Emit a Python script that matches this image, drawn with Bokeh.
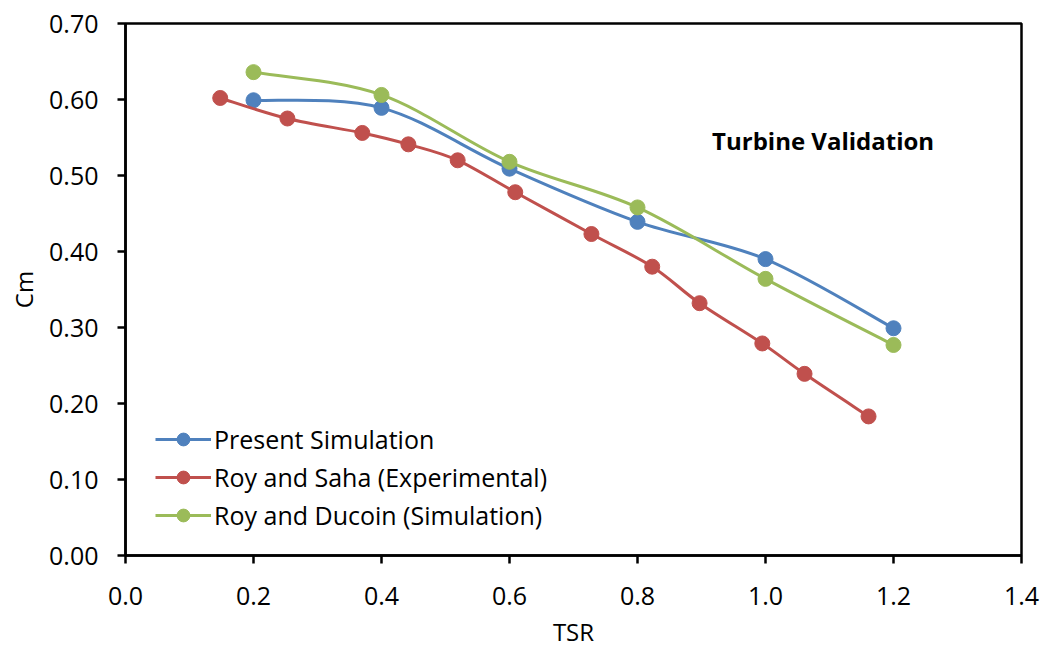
from bokeh.plotting import figure
from bokeh.models import Legend, LegendItem, Label, NumeralTickFormatter, FixedTicker, ColumnDataSource
from bokeh.embed import file_html
from bokeh.resources import INLINE

# Data
present_tsr = [0.2, 0.4, 0.6, 0.8, 1.0, 1.2]
present_cm = [0.599, 0.589, 0.509, 0.439, 0.390, 0.299]

saha_tsr = [0.148, 0.253, 0.370, 0.442, 0.519, 0.609, 0.728, 0.823, 0.897, 0.995, 1.061, 1.161]
saha_cm = [0.602, 0.575, 0.556, 0.541, 0.520, 0.478, 0.423, 0.380, 0.332, 0.279, 0.239, 0.183]

ducoin_tsr = [0.2, 0.4, 0.6, 0.8, 1.0, 1.2]
ducoin_cm = [0.636, 0.606, 0.518, 0.458, 0.364, 0.277]

labels = ["Present Simulation", "Roy and Saha (Experimental)", "Roy and Ducoin (Simulation)"]
colors = ["#4F81BD", "#C0504D", "#9BBB59"]
x_ticks = [0.0, 0.2, 0.4, 0.6, 0.8, 1.0, 1.2, 1.4]
y_ticks = [0.0, 0.1, 0.2, 0.3, 0.4, 0.5, 0.6, 0.7]

FONT = "Open Sans"

p = figure(width=1045, height=650, output_backend="svg", toolbar_location=None,
           x_range=(0, 1.4), y_range=(0, 0.7),
           min_border_left=125, min_border_right=24, min_border_top=23, min_border_bottom=94)
p.xgrid.visible = False
p.ygrid.visible = False
p.outline_line_color = "black"
p.outline_line_width = 2.5


def smooth_segments(xs, ys):
    n = len(xs)
    seg = dict(x0=[], y0=[], x1=[], y1=[], cx0=[], cy0=[], cx1=[], cy1=[])
    for i in range(n - 1):
        xm, ym = (xs[i - 1], ys[i - 1]) if i > 0 else (xs[i], ys[i])
        xp, yp = (xs[i + 2], ys[i + 2]) if i + 2 < n else (xs[i + 1], ys[i + 1])
        seg["x0"].append(xs[i]); seg["y0"].append(ys[i])
        seg["x1"].append(xs[i + 1]); seg["y1"].append(ys[i + 1])
        seg["cx0"].append(xs[i] + (xs[i + 1] - xm) / 6)
        seg["cy0"].append(ys[i] + (ys[i + 1] - ym) / 6)
        seg["cx1"].append(xs[i + 1] - (xp - xs[i]) / 6)
        seg["cy1"].append(ys[i + 1] - (yp - ys[i]) / 6)
    return ColumnDataSource(seg)


items = []
for (xs, ys), lab, col in zip([(present_tsr, present_cm), (saha_tsr, saha_cm), (ducoin_tsr, ducoin_cm)], labels, colors):
    src = smooth_segments(xs, ys)
    r1 = p.bezier(x0="x0", y0="y0", x1="x1", y1="y1", cx0="cx0", cy0="cy0", cx1="cx1", cy1="cy1",
                  source=src, line_color=col, line_width=3)
    r2 = p.scatter(xs, ys, size=15, fill_color=col, line_color=col)
    items.append(LegendItem(label=lab, renderers=[r1, r2]))

legend = Legend(items=items, location=(26, 19), label_text_font=FONT, label_text_font_size="25px",
                label_text_color="black", background_fill_alpha=0, border_line_alpha=0,
                glyph_width=56, glyph_height=32, label_standoff=3, spacing=4, padding=4, margin=0,
                label_height=32)
p.add_layout(legend, "center")

for ax in (p.xaxis[0], p.yaxis[0]):
    ax.axis_line_color = "black"
    ax.axis_line_width = 2.5
    ax.major_tick_line_color = "black"
    ax.major_tick_line_width = 2.5
    ax.major_tick_out = 8
    ax.major_tick_in = 0
    ax.minor_tick_line_color = None
    ax.major_label_text_font = FONT
    ax.major_label_text_font_size = "25px"
    ax.major_label_text_color = "black"
    ax.axis_label_text_font = FONT
    ax.axis_label_text_font_size = "24px"
    ax.axis_label_text_font_style = "normal"
    ax.axis_label_text_color = "black"

p.xaxis[0].ticker = FixedTicker(ticks=x_ticks)
p.yaxis[0].ticker = FixedTicker(ticks=y_ticks)
p.xaxis[0].formatter = NumeralTickFormatter(format="0.0")
p.yaxis[0].formatter = NumeralTickFormatter(format="0.00")
p.xaxis[0].axis_label = "TSR"
p.yaxis[0].axis_label = "Cm"
p.xaxis[0].major_label_standoff = 23
p.yaxis[0].major_label_standoff = 19
p.xaxis[0].axis_label_standoff = 7
p.yaxis[0].axis_label_standoff = 6

title = Label(x=1.09, y=0.546, text="Turbine Validation", text_font=FONT, text_font_size="24px",
              text_font_style="bold", text_align="center", text_baseline="middle", text_color="black")
p.add_layout(title)

open("out.html", "w").write(file_html(p, INLINE))
